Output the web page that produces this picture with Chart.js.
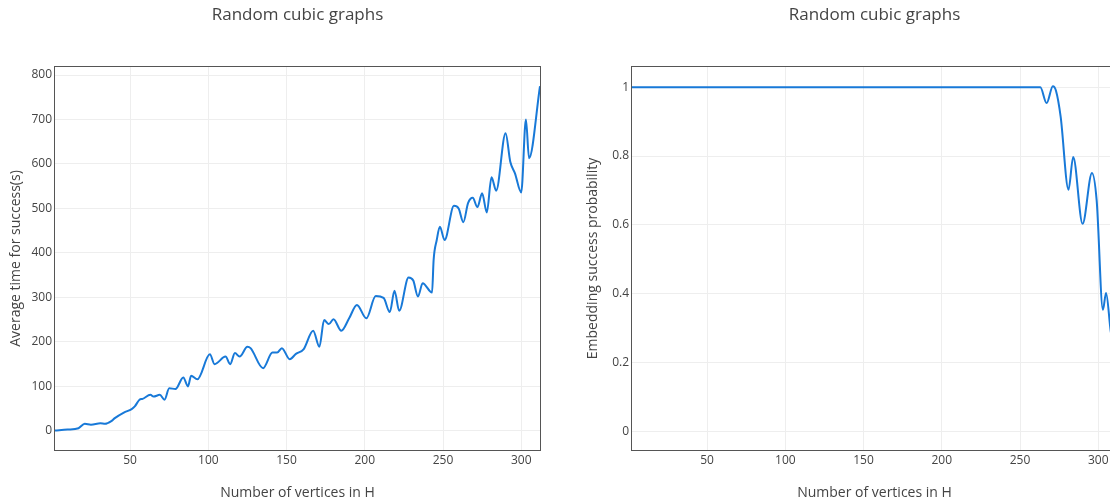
<!DOCTYPE html>
<html>
<head>
<meta charset="utf-8">
<title>Random cubic graphs</title>
<script src="https://cdn.jsdelivr.net/npm/chart.js@4.4.1/dist/chart.umd.min.js"></script>
<style>
  html, body { margin: 0; padding: 0; background: #fff; }
  body { width: 1110px; height: 503px; overflow: hidden; position: relative; }
  canvas { position: absolute; top: 0; }
  #timeChart { left: 0; }
  #probChart { left: 577px; }
</style>
</head>
<body>
<canvas id="timeChart" width="595" height="503"></canvas>
<canvas id="probChart" width="595" height="503"></canvas>
<script>
// Number of vertices in H (shared x ticks)
const vertexTicks = [50, 100, 150, 200, 250, 300];

// Average time for success (s) versus vertex count
const timeVertices = [2, 10, 17, 21, 25, 31, 34, 38, 40, 46, 51, 53, 56, 58, 63, 65, 69, 72, 75, 79,
  84, 87, 89, 93, 101, 104, 111, 114, 117, 120, 125, 127, 135, 141, 144, 147, 152, 156, 161, 167,
  171, 174, 177, 180, 185, 190, 195, 201, 207, 212, 216, 219, 222, 228, 231, 234, 237, 243, 244, 246,
  248, 251, 257, 260, 263, 266, 269, 272, 275, 278, 281, 284, 290, 293, 296, 300, 303, 305, 312];
const timeSeconds = [1, 3, 6, 16, 14, 17, 16, 22, 28, 41, 49, 55, 70, 72, 81, 77, 81, 70, 96, 94,
  120, 100, 124, 116, 172, 150, 167, 150, 175, 167, 189, 186, 141, 176, 176, 186, 161, 173, 184, 225,
  189, 249, 240, 251, 225, 253, 283, 253, 303, 299, 267, 315, 270, 345, 338, 302, 332, 311, 384, 429,
  459, 429, 506, 500, 469, 512, 524, 503, 534, 491, 570, 540, 669, 605, 579, 536, 700, 613, 775];
const timeTicks = [0, 100, 200, 300, 400, 500, 600, 700, 800];

// Embedding success probability versus vertex count
const probVertices = [2, 258, 263, 267, 271, 273, 276, 281, 284, 290, 296, 299, 303, 305, 308, 312];
const probValues = [1, 1, 1, 0.954, 1.003, 0.99, 0.914, 0.702, 0.797, 0.603, 0.751, 0.671, 0.353, 0.402, 0.29, 0.2];
const probTicks = [0, 0.2, 0.4, 0.6, 0.8, 1];

const TITLE = 'Random cubic graphs';
const X_TITLE = 'Number of vertices in H';
const LINE_COLOR = '#1879d8';
const TEXT_COLOR = '#444';
const GRID_COLOR = '#eeeeee';

Chart.defaults.font.family = "'Open Sans', 'DejaVu Sans', sans-serif";
Chart.defaults.color = TEXT_COLOR;

// Box around the plotting area
const framePlugin = {
  id: 'frame',
  afterDraw(chart) {
    const { ctx, chartArea: a } = chart;
    ctx.save();
    ctx.strokeStyle = '#555';
    ctx.lineWidth = 1;
    ctx.strokeRect(Math.round(a.left) - 0.5, Math.round(a.top) - 0.5,
      Math.round(a.right - a.left) + 1, Math.round(a.bottom - a.top) + 1);
    ctx.restore();
  }
};

function makeChart(id, xs, ys, yTicks, yMin, yMax, yTitle) {
  const points = xs.map((x, i) => ({ x: x, y: ys[i] }));
  return new Chart(document.getElementById(id), {
    type: 'line',
    data: {
      datasets: [{
        data: points,
        borderColor: LINE_COLOR,
        borderWidth: 2,
        pointRadius: 0,
        fill: false,
        cubicInterpolationMode: 'monotone'
      }]
    },
    options: {
      responsive: false,
      animation: false,
      layout: { padding: { left: 0, right: 55, top: 0, bottom: 0 } },
      plugins: {
        legend: { display: false },
        tooltip: { enabled: false },
        title: {
          display: true,
          text: TITLE,
          fullSize: false,
          color: TEXT_COLOR,
          font: { size: 17, weight: 'normal' },
          padding: { top: 5, bottom: 41.6 }
        }
      },
      scales: {
        x: {
          type: 'linear',
          min: 2,
          max: 312,
          afterBuildTicks: s => { s.ticks = vertexTicks.map(v => ({ value: v })); },
          afterFit: s => { s.height = 53; },
          grid: { color: GRID_COLOR, drawTicks: false },
          border: { display: false },
          ticks: { padding: 3, font: { size: 12 }, maxRotation: 0, callback: v => String(v) },
          title: {
            display: true,
            text: X_TITLE,
            font: { size: 14 },
            padding: { top: 0, bottom: 2 }
          }
        },
        y: {
          type: 'linear',
          min: yMin,
          max: yMax,
          afterBuildTicks: s => { s.ticks = yTicks.map(v => ({ value: v })); },
          afterFit: s => { s.width = 55; },
          grid: { color: GRID_COLOR, drawTicks: false },
          border: { display: false },
          ticks: { padding: 3, font: { size: 12 }, callback: v => String(v) },
          title: {
            display: true,
            text: yTitle,
            font: { size: 14 },
            padding: { top: 8, bottom: 0 }
          }
        }
      }
    },
    plugins: [framePlugin]
  });
}

makeChart('timeChart', timeVertices, timeSeconds, timeTicks, -43, 818, 'Average time for success(s)');
makeChart('probChart', probVertices, probValues, probTicks, -0.055, 1.059, 'Embedding success probability');
</script>
</body>
</html>
